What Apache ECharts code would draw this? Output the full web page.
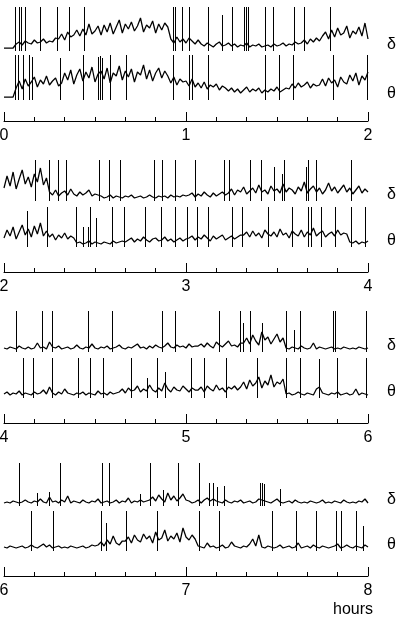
<!DOCTYPE html>
<html><head><meta charset="utf-8">
<script src="https://cdn.jsdelivr.net/npm/echarts@6/dist/echarts.min.js"></script>
<style>html,body{margin:0;padding:0;background:#fff}#c{width:400px;height:620px}</style>
</head><body><div id="c"></div>
<script>
// ---- data (values in trace units above each trace's resting level; one sample per minute) ----
const panelStarts = [0, 2, 4, 6];          // hours
const tickLabels = ['0','1','2','3','4','5','6','7','8'];
const traceNames = ['δ', 'θ'];
const axisTitle = 'hours';

const delta1 = [0,0,0,0, 4,6,3,7,5,4,8,5,6,9,5,7,6,10, 9,14,8,16,11,13,18, 12,19,13,24,14,17,22,
 13,23,16,25,14,21,28,15,24,19,26,17,22,30,16,23,20,27,15,24,18,25,21, 9,5,11,6, 9,5,10,7,4,8,
 4,2,5,3,1,4,6,2,3,5,2,4,1,3,2,5,1,3,2,4,1,2,3,1,4,2,3,5,2,4,3,6,4, 5,8,4,9,6,10,7,
 12,16,9,18,11,20,13,15,22,10,17,14,21,12,25,9];
const theta1 = [0,0,0,0, 9,16,8,18,11,15,20,10,17,13,21,12,16,19,11,
 14,24,17,27,13,22,28,16,25,19,30,15,23,26,18,29,14,24,21,31,17,26,20,28,15,25,22,32,18,27,16,24,29,19,26,21,
 14,20,12,18,15, 16,11,18,10,14,9,15,8,12,10,13,7,11,9,
 6,9,5,8,4,7,10,5,8,6,9,4,7,5,8,6,10,5,7,9, 8,13,9,14,10,12,15,9,13,11,
 12,18,11,19,14,17,10,20,15, 13,22,16,24,12,21,17,25];
const delta2 = [10,22,12,26,9,19,28,14,21,11,24,16,30,13,20, 6,3,8,2,5,7,3,9,4,2,6,3,5,8,2,4,3,
 2,0,1,3,0,2,1,0,2,1,3,0,1,2,0,1,3,1,0,2,1,2,0,3,1,2,1,3,2, 3,5,1,4,2,6,3,1,5,2,4,6,3,
 5,9,3,8,6,11,4,7,10,5,13,6,8,4,12,7,9,5,14,6,10,8,4,11,7,16,5,9,12,6,10,4,8,15,7,11,5,9,13,6,10,4,8,12,5,9,6];
const theta2 = [6,14,8,17,5,12,19,9,15,7,18,10,21,8,13, 7,10,4,9,6,11,5,8,6,
 1,2,0,1,3,0,2,1,0,2,1,0,3,1,2,3,2, 4,6,2,5,3,7,4,2,5,6,3,4,7,3,5,2,4,6,3,5,
 6,8,4,7,5,9,6,3,8,5,7,9,4,6,8,5,7,9,
 9,12,7,13,8,11,6,14,10,8,12,7,15,9,11,6,13,10,8,14,7,12,9,16,8,11,13,7,10,12,8,14,9,11,10, 2,1,3,0,2,1,3];
const delta3 = [1,0,2,1,0,3,1,0,2,0,1,6,1,2,0,7,2,1,3,0,1,2,0,1,4,1,0,2,1,5,1,0,2,1,3,0,1,2,4,1,0,2,1,3,5,1,2,0,3,1,4,2,1,3,6,2,1,4,2,3,1,5,2,3,
 3,5,2,6,3,1,7,4,2,5,8,3,4,2,6, 6,11,5,14,8,4,17,9,12,5,10,15,7,11,
 1,0,2,1,0,3,1,0,1,6,0,2,1,0,1,2,0,1,0,2,1,0,1,0,2,1,0,1];
const theta3 = [1,3,0,2,1,4,0,2,1,0,3,1,2,5,1,8,2,0,3,1,6,2,1,0,2,1,3,0,2,1,0,4,1,2,0,3,1,2,
 3,6,2,7,4,5,9,3,6,4,10,5,3,7,4,12,6,3,8,5,4,9,6,3,7,5, 5,8,3,9,6,4,10,5,7,3,8,6,9,5,
 8,13,6,15,9,12,18,7,14,10,20,8,13,11,16,
 1,2,0,1,3,1,0,2,1,0,6,8,2,1,0,2,1,3,0,1,2,0,1,6,0,2,1,0];
const delta4 = [0,1,0,2,1,0,1,3,1,0,2,1,4,1,0,6,1,2,0,3,1,7,0,2,1,0,3,1,0,2,1,4,0,1,2,0,1,3,0,2,1,5,0,2,1,3,1,2,
 3,6,2,8,4,1,10,3,7,2,5,9,3,
 2,0,1,3,0,3,5,2,4,2,1,0,3,1,0,2,1,3,0,1,2,0,1,4,3,2,1,0,2,4,1,0,1,2,0,3,1,
 0,1,0,2,1,0,1,3,0,1,0,2,1,0,3,1,0,1,0,2,1,4,0];
const theta4 = [1,0,2,1,0,1,2,0,1,3,1,0,2,4,1,3,0,1,2,0,1,0,2,1,0,1,2,0,1,3,2,
 3,6,2,8,4,12,5,3,7, 7,11,5,13,8,6,14,9,12,5,16,8,10,18,7,12,9,15,6,20,11,8,13,9,
 2,1,0,5,1,2,0,1,3,0,1,6,2,1,0,2,1,4,9,2,13,1,0,2,1,0,1,3,0,1,2,0,1,5,0,1,2,0,3,1,0,2,1,0,1,2,4,0,1,3,1,0,2,1,0,3,1];

// spikes: [hours from panel start, peak value]
const deltaSpikes1 = [[0.058,41],[0.085,41],[0.094,41],[0.116,41],[0.199,41],[0.290,41],[0.356,41],[0.437,41],
 [0.931,41],[0.941,41],[0.977,41],[1.019,41],[1.120,41],[1.197,33],[1.254,41],[1.321,41],[1.331,41],[1.340,41],
 [1.435,41],[1.477,41],[1.592,41],[1.647,41],[1.790,41]];
const thetaSpikes1 = [[0.058,42],[0.076,42],[0.103,42],[0.136,42],[0.155,40],[0.309,39],[0.433,42],[0.515,40],
 [0.525,41],[0.537,39],[0.580,42],[0.668,42],[0.928,42],[1.019,42],[1.032,42],[1.120,42],[1.435,42],[1.510,42],
 [1.587,42],[1.810,42],[1.996,42]];
const deltaSpikes2 = [[0.168,38],[0.245,38],[0.298,38],[0.342,38],[0.521,38],[0.576,38],[0.640,38],[0.823,38],
 [0.867,38],[0.942,38],[1.047,38],[1.208,38],[1.235,38],[1.351,38],[1.413,38],[1.486,31],[1.528,24],[1.537,38],
 [1.660,31],[1.669,38],[1.715,38],[1.904,38]];
const thetaSpikes2 = [[0.124,33],[0.237,37],[0.397,37],[0.433,17],[0.460,17],[0.474,37],[0.507,26],[0.592,37],
 [0.658,37],[0.774,37],[0.860,37],[0.941,37],[1.007,37],[1.062,37],[1.120,37],[1.254,37],[1.307,37],[1.449,37],
 [1.581,37],[1.673,37],[1.688,37],[1.743,37],[1.820,37],[1.904,37],[1.985,37]];
const deltaSpikes3 = [[0.067,38],[0.208,38],[0.263,38],[0.460,38],[0.592,38],[0.867,38],[0.942,38],[1.184,38],
 [1.299,38],[1.312,26],[1.349,38],[1.416,26],[1.548,38],[1.596,19],[1.624,38],[1.807,38],[1.816,38],[1.990,38]];
const thetaSpikes3 = [[0.103,37],[0.158,37],[0.263,37],[0.405,37],[0.474,37],[0.543,37],[0.699,37],[0.783,17],
 [0.842,37],[0.886,23],[1.029,37],[1.098,37],[1.221,37],[1.391,37],[1.548,37],[1.624,37],[1.730,36],[1.829,37],[1.990,37]];
const deltaSpikes4 = [[0.081,40],[0.184,10],[0.245,11],[0.305,40],[0.537,40],[0.576,40],[0.745,9],[0.803,40],[0.871,13],
 [0.955,40],[1.069,40],[1.129,20],[1.151,20],[1.168,16],[1.209,17],[1.404,20],[1.416,20],[1.426,19],[1.519,14]];
const thetaSpikes4 = [[0.146,37],[0.268,37],[0.534,37],[0.558,25],[0.671,37],[0.840,37],[1.069,37],[1.184,37],
 [1.471,37],[1.603,37],[1.715,37],[1.825,37],[1.849,37],[1.933,37],[1.971,22]];
const SPIKE_FOOT = -3;

// ---- layout ----
const traces = [[delta1, theta1],[delta2, theta2],[delta3, theta3],[delta4, theta4]];
const spikes = [[deltaSpikes1, thetaSpikes1],[deltaSpikes2, thetaSpikes2],[deltaSpikes3, thetaSpikes3],[deltaSpikes4, thetaSpikes4]];
const axisY = [121, 272, 423, 576];
const baseY = [[48, 97],[198, 244],[349, 395],[503, 548]];
const GH = 121, GL = 4, GW = 364;
const FONT = '"Liberation Sans", Arial, sans-serif';

const grid = [], xAxis = [], yAxis = [], series = [], graphic = [];
axisY.forEach((ay, k) => {
  const start = panelStarts[k];
  grid.push({left: GL, width: GW, top: ay - GH, height: GH, containLabel: false, outerBoundsMode: 'none'});
  xAxis.push({
    type: 'value', gridIndex: k, min: start, max: start + 2, interval: 1,
    axisLine: {show: true, onZero: false, lineStyle: {color: '#000', width: 1}},
    axisTick: {show: true, inside: true, length: 9, lineStyle: {color: '#000', width: 1}},
    minorTick: {show: true, splitNumber: 6, length: 4, lineStyle: {color: '#000', width: 1}},
    splitLine: {show: false},
    axisLabel: {fontFamily: FONT, fontSize: 16, color: '#000', margin: 7,
      formatter: v => tickLabels[Math.round(v)]}
  });
  [0, 1].forEach(j => {
    const by = baseY[k][j];
    const yi = yAxis.length;
    yAxis.push({type: 'value', gridIndex: k, show: false, min: -(ay - by), max: by - (ay - GH)});
    const vals = traces[k][j];
    series.push({
      type: 'line', xAxisIndex: k, yAxisIndex: yi, symbol: 'none', silent: true,
      lineStyle: {color: '#000', width: 1.25},
      data: vals.map((v, i) => [start + i / 60, v])
    });
    series.push({
      type: 'custom', xAxisIndex: k, yAxisIndex: yi, silent: true,
      data: spikes[k][j].map(s => [start + s[0], s[1]]),
      renderItem: (params, api) => {
        const a = api.coord([api.value(0), SPIKE_FOOT]);
        const b = api.coord([api.value(0), api.value(1)]);
        const x = Math.round(a[0]) + 0.5;
        return {type: 'line', shape: {x1: x, y1: a[1], x2: x, y2: b[1]},
          style: {stroke: '#000', lineWidth: 1}};
      }
    });
    graphic.push({type: 'text', left: 387, top: by - 11,
      style: {text: traceNames[j], font: '16px ' + FONT, fill: '#000'}});
  });
});
graphic.push({type: 'text', left: 333, top: 602, style: {text: axisTitle, font: '16px ' + FONT, fill: '#000'}});

const chart = echarts.init(document.getElementById('c'), null, {renderer: 'canvas'});
chart.setOption({animation: false, grid, xAxis, yAxis, series, graphic});
</script></body></html>
